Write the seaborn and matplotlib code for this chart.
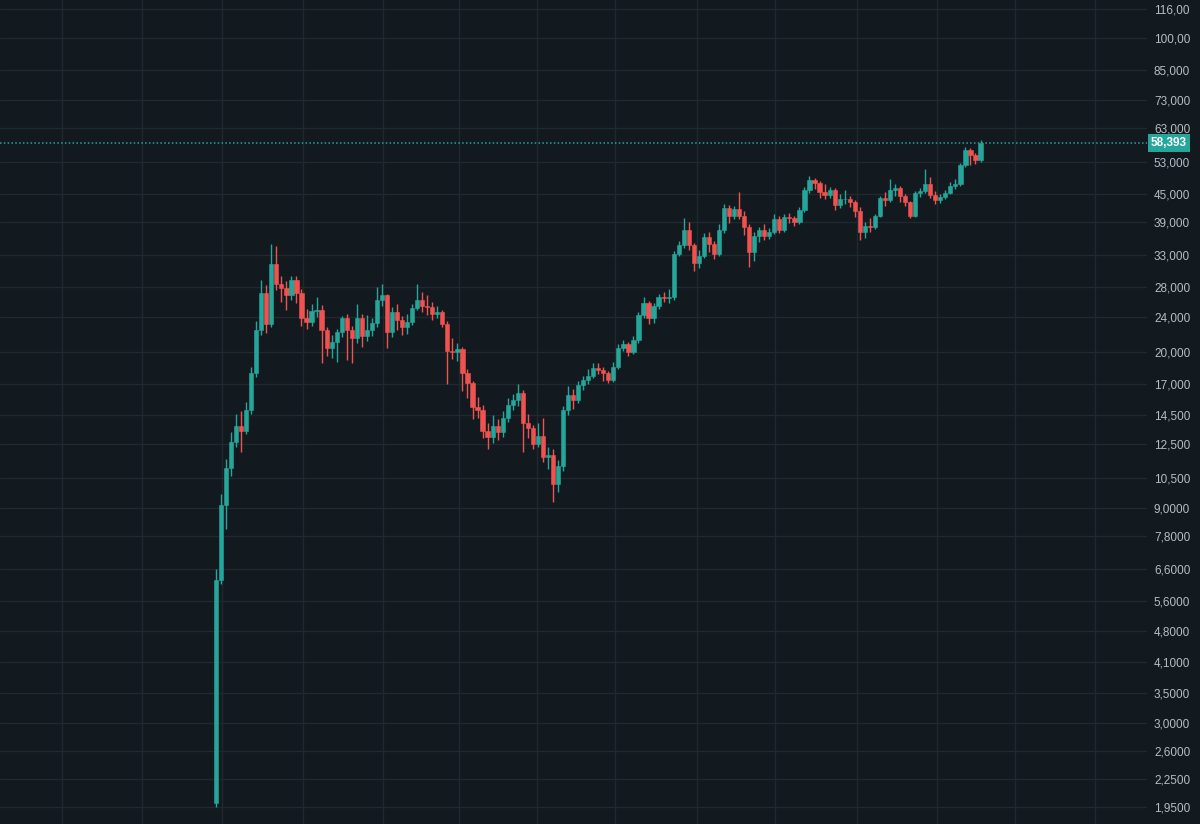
import matplotlib
matplotlib.use("Agg")
from matplotlib import pyplot as plt
from matplotlib import transforms
from matplotlib.ticker import NullLocator
import seaborn as sns
import numpy as np

# weekly-ish candles (log price)
first_open = 1.99
closes = [
    6.23, 9.15, 11.05, 12.65, 13.75, 13.4, 14.9, 18.0, 22.4, 27.1,
    23.1, 31.4, 28.4, 27.8, 26.8, 29.0, 27.1, 23.9, 23.4, 24.7,
    24.8, 22.4, 20.5, 21.1, 22.2, 23.8, 22.4, 21.5, 23.8, 21.8,
    22.4, 23.2, 26.1, 26.8, 22.2, 24.6, 23.6, 22.8, 23.4, 25.1,
    26.1, 25.4, 25.2, 24.3, 24.6, 23.1, 20.1, 20.0, 20.4, 18.0,
    17.1, 15.1, 14.9, 13.4, 13.0, 13.75, 13.3, 14.3, 15.3, 15.7,
    16.25, 13.9, 13.55, 12.5, 13.05, 11.7, 11.85, 10.2, 11.2, 14.9,
    16.1, 15.7, 16.9, 17.4, 17.75, 18.5, 18.3, 18.0, 17.4, 18.6,
    20.5, 20.85, 20.0, 21.3, 24.2, 25.7, 23.9, 25.3, 26.6, 26.4,
    26.5, 33.1, 34.6, 37.4, 34.6, 31.6, 32.8, 36.1, 34.9, 33.1,
    37.4, 41.9, 40.2, 41.6, 40.2, 38.0, 33.4, 36.3, 37.4, 36.3,
    37.0, 39.6, 37.4, 39.95, 39.8, 39.0, 41.4, 45.9, 48.3, 47.6,
    45.45, 44.8, 45.9, 42.5, 43.8, 43.9, 43.2, 41.2, 37.0, 38.2,
    38.0, 40.2, 44.1, 43.6, 45.9, 46.4, 44.5, 43.2, 40.2, 45.2,
    45.8, 47.3, 44.8, 43.6, 44.3, 45.2, 46.8, 47.3, 52.2, 56.4,
    55.0, 53.5, 58.393,
]
highs = [
    6.6, 9.7, 11.6, 13.3, 14.6, 14.8, 15.5, 18.6, 23.5, 29.0,
    28.3, 34.8, 34.4, 29.5, 28.8, 29.6, 29.5, 27.6, 25.0, 25.6,
    26.5, 25.5, 22.8, 21.9, 22.6, 24.1, 24.3, 22.9, 25.6, 24.4,
    24.2, 23.9, 28.0, 28.4, 27.0, 25.2, 25.6, 24.1, 24.3, 25.6,
    28.4, 27.2, 26.8, 25.9, 25.4, 24.9, 23.5, 21.5, 21.0, 20.6,
    18.4, 17.3, 15.9, 15.3, 13.9, 14.5, 14.2, 14.8, 15.8, 16.2,
    17.0, 16.5, 14.6, 13.8, 13.9, 14.3, 12.3, 12.2, 11.5, 15.2,
    16.8, 16.6, 17.3, 17.7, 18.4, 18.9, 18.9, 18.6, 18.2, 19.0,
    20.9, 21.3, 21.1, 21.8, 24.6, 26.5, 26.0, 25.8, 27.0, 27.3,
    27.6, 33.6, 35.3, 39.8, 38.9, 35.0, 33.8, 36.9, 37.0, 35.3,
    38.5, 42.7, 42.6, 42.3, 45.5, 41.2, 38.5, 37.0, 38.0, 38.6,
    37.8, 40.6, 40.3, 40.7, 40.9, 40.3, 42.0, 46.6, 49.3, 48.9,
    48.2, 47.4, 46.6, 46.3, 44.9, 46.0, 44.5, 43.6, 42.0, 38.9,
    39.7, 40.6, 44.6, 45.5, 48.7, 47.4, 46.8, 45.0, 43.5, 45.7,
    46.5, 51.1, 49.2, 45.6, 45.0, 45.9, 47.8, 48.5, 52.8, 57.2,
    57.0, 55.6, 59.3,
]
lows = [
    1.95, 6.1, 8.1, 10.6, 12.3, 12.0, 13.2, 14.6, 17.6, 21.9,
    22.1, 22.8, 27.5, 25.9, 24.8, 26.2, 25.7, 22.9, 22.6, 22.9,
    24.0, 18.9, 19.6, 19.4, 19.0, 21.6, 19.2, 18.9, 21.0, 20.6,
    21.2, 21.7, 22.8, 25.4, 20.5, 21.6, 22.4, 21.9, 22.0, 23.0,
    24.9, 24.6, 24.2, 23.6, 23.8, 22.8, 17.0, 19.3, 19.1, 16.4,
    15.8, 14.2, 14.3, 12.9, 12.2, 12.6, 12.8, 13.0, 14.0, 14.9,
    15.2, 12.0, 12.9, 12.2, 12.3, 11.4, 11.0, 9.3, 9.8, 10.9,
    14.5, 15.0, 15.4, 16.5, 17.0, 17.5, 17.9, 17.3, 17.1, 17.2,
    18.4, 20.1, 19.6, 19.8, 21.0, 23.9, 23.1, 23.3, 25.0, 25.9,
    25.8, 26.2, 32.8, 34.2, 33.8, 30.4, 30.8, 32.4, 33.4, 32.2,
    32.8, 36.9, 38.7, 39.5, 39.6, 36.4, 31.0, 32.0, 35.2, 35.6,
    35.7, 36.6, 36.9, 37.0, 38.7, 38.2, 38.6, 41.0, 45.3, 46.2,
    44.0, 43.9, 44.1, 41.4, 41.9, 42.8, 42.2, 40.0, 35.5, 36.0,
    37.1, 37.6, 39.9, 42.4, 43.2, 44.6, 43.2, 42.3, 39.7, 39.9,
    44.4, 45.3, 44.0, 42.7, 42.9, 43.9, 44.9, 46.2, 47.0, 51.8,
    52.2, 52.4, 53.1,
]
opens = [first_open] + closes[:-1]

# right-hand price scale
tick_values = [1.95, 2.25, 2.6, 3.0, 3.5, 4.1, 4.8, 5.6, 6.6, 7.8, 9.0, 10.5, 12.5, 14.5,
               17, 20, 24, 28, 33, 39, 45, 53, 63, 73, 85, 100, 116]
tick_labels = ["1,9500", "2,2500", "2,6000", "3,0000", "3,5000", "4,1000", "4,8000",
               "5,6000", "6,6000", "7,8000", "9,0000", "10,500", "12,500", "14,500",
               "17,000", "20,000", "24,000", "28,000", "33,000", "39,000", "45,000",
               "53,000", "63,000", "73,000", "85,000", "100,00", "116,00"]
last_label = "58,393"

bg = "#121a20"
grid_col = "#1f292f"
up_col = "#26a69a"
down_col = "#ef5350"
text_col = "#b8bbc2"

sns.set_theme(style="dark", rc={"axes.facecolor": bg, "figure.facecolor": bg})
plt.rcParams["font.family"] = ["Liberation Sans", "DejaVu Sans"]

fig = plt.figure(figsize=(12, 8.24), dpi=100)
ax = fig.add_axes([0, 0, 1147 / 1200, 1])
ax.set_facecolor(bg)

idx = np.arange(len(closes))
o = np.array(opens)
c = np.array(closes)
colors = [up_col if cc >= oo else down_col for oo, cc in zip(o, c)]

ax.vlines(idx, lows, highs, colors=colors, linewidth=1.0, zorder=3)
ax.bar(idx, np.abs(c - o), bottom=np.minimum(o, c), width=0.84, color=colors,
       edgecolor=colors, linewidth=0.4, zorder=4)

ax.set_yscale("log")
ax.set_ylim(1.788, 121.5)
ax.set_xlim(-42.94, 185.1)

ax.set_yticks(tick_values)
ax.set_yticklabels(tick_labels)
ax.yaxis.set_minor_locator(NullLocator())
ax.yaxis.tick_right()
ax.tick_params(axis="y", length=0, pad=5, labelsize=8.5, labelcolor=text_col)

# vertical grid (time divisions)
ax.set_xticks([-30.6, -14.7, 1.2, 17.3, 33.2, 48.3, 63.8, 79.3, 95.6, 111.1,
               127.4, 143.3, 158.8, 174.8])
ax.tick_params(axis="x", length=0, labelbottom=False)
ax.grid(True, color=grid_col, linewidth=1.0, zorder=0)
ax.set_axisbelow(True)
for s in ax.spines.values():
    s.set_visible(False)

# last price line + tag
last = closes[-1]
ax.axhline(last, color=up_col, linestyle=(0, (1, 1.5)), linewidth=1.1, zorder=2)
trans = transforms.blended_transform_factory(ax.transAxes, ax.transData)
ax.text(1.0035, last, last_label, transform=trans, ha="left", va="center",
        fontsize=8.5, fontweight="bold", color="white", clip_on=False,
        bbox=dict(boxstyle="square,pad=0.25", fc=up_col, ec="none"))

fig.savefig("out.png", dpi=100, facecolor=bg)
